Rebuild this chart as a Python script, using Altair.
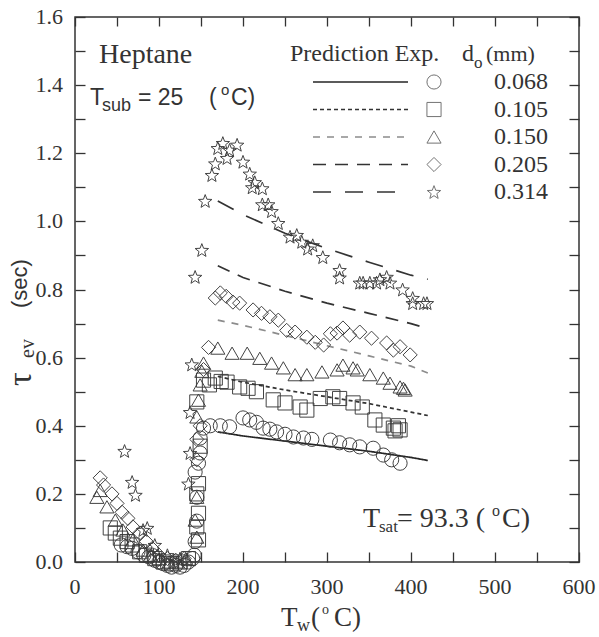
import math
import altair as alt
import pandas as pd

# ---------------- data ----------------
series = ["0.068", "0.105", "0.150", "0.205", "0.314"]

pred_x = [170, 200, 250, 300, 350, 400, 420]
pred_068 = [0.382, 0.37, 0.355, 0.34, 0.325, 0.307, 0.298]
pred_105 = [0.545, 0.528, 0.505, 0.485, 0.465, 0.44, 0.43]
pred_150 = [0.71, 0.695, 0.665, 0.635, 0.605, 0.575, 0.555]
pred_205 = [0.87, 0.835, 0.795, 0.76, 0.73, 0.70, 0.685]
pred_314 = [1.06, 1.02, 0.965, 0.92, 0.88, 0.842, 0.83]

exp_068_x = [55, 62, 68, 75, 82, 88, 95, 100, 105, 110, 115, 120, 125, 130, 135, 140, 142,
             143, 145, 145, 143, 147, 149, 149, 153, 161,
             173, 184, 200, 208, 216, 224, 232, 240, 250, 260, 272, 282, 304, 315, 327, 339,
             355, 367, 377, 387]
exp_068_y = [0.05, 0.045, 0.04, 0.03, 0.02, 0.015, 0.005, 0.0, -0.005, -0.01, -0.015, -0.01,
             -0.015, -0.01, 0.0, 0.01, 0.02,
             0.06, 0.12, 0.19, 0.264, 0.29, 0.32, 0.364, 0.393, 0.40,
             0.40, 0.397, 0.423, 0.417, 0.41, 0.393, 0.39, 0.382, 0.375, 0.367, 0.364, 0.36,
             0.358, 0.35, 0.344, 0.338, 0.334, 0.314, 0.30, 0.29]

exp_105_x = [42, 48, 54, 62, 68, 77, 85, 95, 105, 115, 125, 135,
             147, 145, 147, 145, 147, 149, 145, 153,
             160, 167, 174, 181, 196, 206, 216, 236, 250, 268, 276, 292, 307, 315, 331, 342,
             357, 367, 379, 381, 385, 387]
exp_105_y = [0.10, 0.085, 0.07, 0.06, 0.05, 0.03, 0.02, 0.01, 0.0, -0.005, 0.0, 0.01,
             0.065, 0.103, 0.143, 0.2, 0.23, 0.34, 0.47, 0.534,
             0.52, 0.54, 0.53, 0.528, 0.514, 0.51, 0.5, 0.476, 0.467, 0.455, 0.446, 0.48,
             0.485, 0.48, 0.467, 0.455, 0.417, 0.402, 0.393, 0.385, 0.40, 0.388]

exp_150_x = [26, 30, 38, 48, 57, 69, 81, 90, 100, 112, 122, 132,
             145, 143, 145, 145, 147, 149, 151, 153,
             170, 187, 205, 220, 234, 248, 262, 276, 294, 312, 319, 331, 336, 351, 367, 375,
             387, 391, 393]
exp_150_y = [0.19, 0.21, 0.162, 0.123, 0.094, 0.065, 0.035, 0.02, 0.01, 0.0, 0.0, 0.01,
             0.073, 0.123, 0.19, 0.426, 0.475, 0.52, 0.56, 0.584,
             0.628, 0.613, 0.613, 0.598, 0.584, 0.57, 0.55, 0.55, 0.558, 0.564, 0.578, 0.57,
             0.564, 0.55, 0.54, 0.525, 0.514, 0.51, 0.505]

exp_205_x = [30, 34, 44, 50, 56, 63, 69, 77, 85, 92, 100, 110, 120, 130,
             145, 145, 149, 153, 159,
             167, 173, 180, 188, 196, 212, 222, 232, 242, 252, 262, 276, 286, 296, 304, 312,
             319, 327, 339, 353, 371, 379, 387, 399]
exp_205_y = [0.247, 0.226, 0.20, 0.172, 0.146, 0.128, 0.103, 0.085, 0.06, 0.04, 0.02, 0.01,
             0.005, 0.01,
             0.30, 0.36, 0.40, 0.565, 0.63,
             0.775, 0.79, 0.78, 0.763, 0.76, 0.74, 0.73, 0.72, 0.71, 0.68, 0.675, 0.66, 0.645,
             0.637, 0.67, 0.672, 0.687, 0.666, 0.675, 0.657, 0.643, 0.622, 0.632, 0.608]

exp_314_x = [59, 68, 72, 81, 86, 95, 110, 125,
             135, 137, 137, 139, 143, 151, 155,
             163, 167, 170, 176, 181, 184, 193, 200, 208, 211, 214, 223, 223, 230, 234, 242,
             256, 264, 270, 277, 283, 295, 315, 315, 339, 343, 351, 359, 363, 371, 375, 390,
             402, 402, 415, 419]
exp_314_y = [0.326, 0.235, 0.197, 0.094, 0.10, 0.05, 0.02, 0.01,
             0.23, 0.32, 0.44, 0.58, 0.837, 0.916, 1.06,
             1.136, 1.17, 1.215, 1.23, 1.186, 1.21, 1.225, 1.175, 1.14, 1.10, 1.115, 1.097,
             1.05, 1.05, 1.03, 0.995, 0.955, 0.96, 0.94, 0.92, 0.93, 0.895, 0.857, 0.835,
             0.82, 0.82, 0.82, 0.82, 0.83, 0.837, 0.82, 0.80, 0.775, 0.76, 0.76, 0.76]

x_domain = [0, 600]
y_domain = [0.0, 1.6]
x_label_values = [0, 100, 200, 300, 400, 500, 600]
y_label_values = [0.0, 0.2, 0.4, 0.6, 0.8, 1.0, 1.2, 1.4, 1.6]
x_tick_values = [0, 50, 100, 150, 200, 250, 300, 350, 400, 450, 500, 550, 600]
y_tick_values = [round(i * 0.1, 1) for i in range(17)]

# ---------------- tables ----------------
pred_lists = [pred_068, pred_105, pred_150, pred_205, pred_314]
pred_df = pd.DataFrame(
    [{"x": x, "y": y, "d": s} for s, ys in zip(series, pred_lists) for x, y in zip(pred_x, ys)]
)
exp_lists = [(exp_068_x, exp_068_y), (exp_105_x, exp_105_y), (exp_150_x, exp_150_y),
             (exp_205_x, exp_205_y), (exp_314_x, exp_314_y)]
exp_df = pd.DataFrame(
    [{"x": x, "y": y, "d": s} for s, (xs_, ys_) in zip(series, exp_lists) for x, y in zip(xs_, ys_)]
)
legend_df = pd.DataFrame({"d": series, "i": list(range(len(series)))})
frame_df = pd.DataFrame({"x": x_domain, "y": y_domain})
xl_df = pd.DataFrame({"lx": x_label_values})
yl_df = pd.DataFrame({"ly": y_label_values})
dummy_df = pd.DataFrame({"k": [0]})

# ---------------- styling ----------------
W, H = 504, 545
PL, PT = 75, 17
SERIF = "Liberation Serif"
SANS = "Liberation Sans"
INK = "#333333"

pts = []
for k in range(10):
    r = 1.0 if k % 2 == 0 else 0.42
    a = -math.pi / 2 + k * math.pi / 5
    pts.append((r * math.cos(a), r * math.sin(a) + 0.1))
star = "M" + "L".join(f"{px:.3f},{py:.3f}" for px, py in pts) + "Z"

shape_scale = alt.Scale(domain=series, range=["circle", "square", "triangle-up", "diamond", star])
dash_scale = alt.Scale(domain=series, range=[[1, 0], [4, 3], [7, 7], [13, 9], [18, 14]])
color_scale = alt.Scale(domain=series, range=["#262626", "#333333", "#8c8c8c", "#333333", "#333333"])

xs = alt.Scale(domain=x_domain, nice=False, zero=False)
ys = alt.Scale(domain=y_domain, nice=False, zero=False)


# tick-only axes; a negative tick length (given as an expression) turns the ticks inward
def tick_axis(orient, values, length):
    return alt.Axis(orient=orient, values=values, labels=False, domain=False, grid=False,
                    ticks=True, tickSize=alt.ExprRef(expr=f"-{length}"), tickColor=INK,
                    tickWidth=1.3, title=None)


lines = alt.Chart(pred_df).mark_line(strokeWidth=1.7).encode(
    x=alt.X("x:Q", scale=xs, axis=tick_axis("bottom", x_tick_values, 10)),
    y=alt.Y("y:Q", scale=ys, axis=tick_axis("left", y_tick_values, 10)),
    strokeDash=alt.StrokeDash("d:N", scale=dash_scale, legend=None),
    color=alt.Color("d:N", scale=color_scale, legend=None),
    detail="d:N",
)

points = alt.Chart(exp_df).mark_point(filled=False, strokeWidth=1.0, size=200, color="#3a3a3a",
                                      opacity=0.95).encode(
    x=alt.X("x:Q", scale=xs, axis=None),
    y=alt.Y("y:Q", scale=ys, axis=None),
    shape=alt.Shape("d:N", scale=shape_scale, legend=None),
)

# invisible layer that carries the top and right tick axes
frame_ticks = alt.Chart(frame_df).mark_point(opacity=0).encode(
    x=alt.X("x:Q", scale=xs, axis=tick_axis("top", x_tick_values, 9)),
    y=alt.Y("y:Q", scale=ys, axis=tick_axis("right", y_tick_values, 10)),
)

# tick labels, placed through the same scales
x_labels = alt.Chart(xl_df).mark_text(font=SERIF, fontSize=22, color=INK, baseline="top",
                                      align="center").encode(
    x=alt.X("lx:Q", scale=xs, axis=None), y=alt.value(H + 15),
    text=alt.Text("lx:Q", format="d"))
y_labels = alt.Chart(yl_df).mark_text(font=SERIF, fontSize=22, color=INK, baseline="middle",
                                      align="right").encode(
    y=alt.Y("ly:Q", scale=ys, axis=None), x=alt.value(-12),
    text=alt.Text("ly:Q", format=".1f"))

# ---------------- legend (drawn inside the plot) ----------------
ROW0, ROWSTEP = 82 - PT, 27.5
leg_base = alt.Chart(legend_df).transform_calculate(ry=f"{ROW0} + datum.i * {ROWSTEP}")
leg_lines = leg_base.mark_rule(strokeWidth=1.7).encode(
    x=alt.value(313 - PL), x2=alt.value(408 - PL),
    y=alt.Y("ry:Q", scale=None),
    strokeDash=alt.StrokeDash("d:N", scale=dash_scale, legend=None),
    color=alt.Color("d:N", scale=color_scale, legend=None),
)
leg_pts = leg_base.mark_point(filled=False, strokeWidth=1.0, size=200, color="#3a3a3a").encode(
    x=alt.value(434 - PL),
    y=alt.Y("ry:Q", scale=None),
    shape=alt.Shape("d:N", scale=shape_scale, legend=None),
)
leg_txt = leg_base.mark_text(font=SERIF, fontSize=24, color=INK, align="right",
                             baseline="middle").encode(
    x=alt.value(548 - PL),
    y=alt.Y("ry:Q", scale=None),
    text="d:N",
)


def txt(s, x, y, size, font=SERIF, angle=None, align="left"):
    kw = dict(text=s, font=font, fontSize=size, color=INK, align=align, baseline="alphabetic")
    if angle is not None:
        kw["angle"] = angle
    return alt.Chart(dummy_df).mark_text(**kw).encode(x=alt.value(x - PL), y=alt.value(y - PT))


texts = [
    txt("Heptane", 99, 63, 28),
    txt("T", 90, 105, 23, SANS),
    txt("sub", 102, 111, 18, SANS),
    txt("= 25", 138, 105, 23, SANS),
    txt("(", 209, 105, 23, SANS),
    txt("o", 221, 95, 15, SANS),
    txt("C)", 231, 105, 23, SANS),
    txt("Prediction  Exp.", 290, 61, 24),
    txt("d", 462, 61, 24),
    txt("o", 474, 68, 17),
    txt("(mm)", 486, 61, 22),
    txt("T", 363, 527, 28),
    txt("sat", 379, 532, 17),
    txt("= 93.3 (", 397, 527, 28),
    txt("o", 492, 516, 16),
    txt("C)", 502, 527, 28),
    txt("T", 281, 626, 27),
    txt("w", 297, 631, 18),
    txt("(", 311, 626, 27),
    txt("o", 322, 614, 14),
    txt("C)", 334, 626, 27),
    txt("\u03c4", 31, 386, 34, SERIF, 270),
    txt("ev", 34, 358, 20, SERIF, 270),
    txt("(sec)", 27, 308, 22, SANS, 270),
]

chart = alt.layer(
    lines, points, frame_ticks, x_labels, y_labels,
    leg_lines, leg_pts, leg_txt, *texts
).resolve_axis(
    x="independent", y="independent"
).properties(
    width=W, height=H,
    autosize=alt.AutoSizeParams(type="none"),
    padding={"left": PL, "top": PT, "right": 599 - PL - W, "bottom": 637 - PT - H},
    background="white",
).configure_view(stroke=INK, strokeWidth=1.5)

chart.save("out.html", embed_options={"renderer": "svg", "actions": False})
